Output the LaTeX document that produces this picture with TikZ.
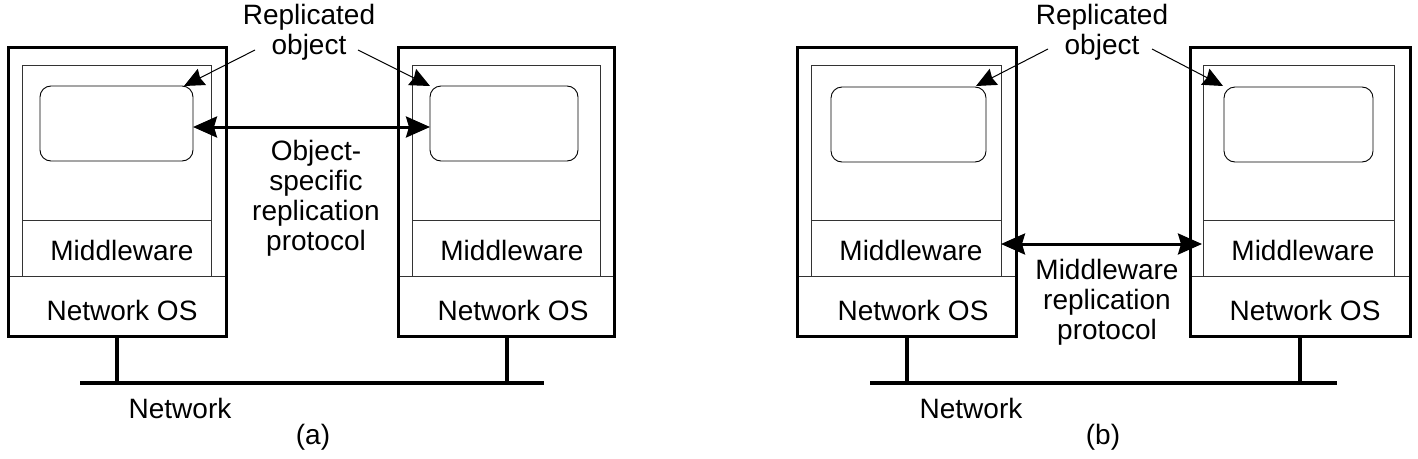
\documentclass[tikz,border=0pt]{standalone}
\usepackage{fontspec}
\setmainfont{Liberation Sans}
\usetikzlibrary{arrows.meta,positioning}
\tikzset{
  innerbox/.style={draw=black!80,line width=1pt},
  objbox/.style={draw=black,line width=0.9pt,rounded corners=11pt},
  lbl/.style={font=\fontsize{28}{30}\selectfont,align=center,inner sep=0pt},
  netline/.style={line width=4.5pt},
  thinarrow/.style={line width=1pt,-{Stealth[length=20pt,width=18pt,inset=2pt]}},
  bigarrow/.style={line width=3pt,{Stealth[length=24pt,width=21pt,inset=3pt]}-{Stealth[length=24pt,width=21pt,inset=3pt]}},
}
\begin{document}
\begin{tikzpicture}[x=1pt,y=-1pt,>={Stealth}]
\useasboundingbox (0,0) rectangle (1418,458);
% (a) left machine
\draw[innerbox] (22,65) rectangle (211,276);
\draw[innerbox] (22,220) -- (211,220);
\draw[innerbox] (8,276) -- (226,276);
\draw[line width=3pt] (8,47) rectangle (226,336);
\draw[objbox] (40,86) rectangle (193,161);
\coordinate (a1obj) at (193,127);
\coordinate (a1tip) at (184,86);
\coordinate (a1net) at (117,336);
\node[lbl] (a1mw) at (122,250) {Middleware};
\node[lbl] (a1os) at (122,310) {Network OS};
% (a) right machine
\draw[innerbox] (412,65) rectangle (600,276);
\draw[innerbox] (412,220) -- (600,220);
\draw[innerbox] (398,276) -- (614,276);
\draw[line width=3pt] (398,47) rectangle (614,336);
\draw[objbox] (430,86) rectangle (578,161);
\coordinate (a2obj) at (430,127);
\coordinate (a2tip) at (430,86);
\coordinate (a2net) at (507,336);
\node[lbl] (a2mw) at (512,250) {Middleware};
\node[lbl] (a2os) at (513,310) {Network OS};
% (a) labels and connectors
\node[lbl] (arep) at (309,32) {Replicated\\object};
\coordinate (arepl) at (255,50);
\coordinate (arepr) at (358,50);
\draw[thinarrow] (arepl) -- (a1tip);
\draw[thinarrow] (arepr) -- (a2tip);
\draw[bigarrow] (a1obj) -- (a2obj);
\node[lbl] (aproto) at (316,198) {Object-\\specific\\replication\\protocol};
\coordinate (anl) at (80,383);
\coordinate (anr) at (544,383);
\draw[netline] (anl) -- (anr);
\draw[netline] (a1net) -- (a1net |- anl);
\draw[netline] (a2net) -- (a2net |- anl);
\node[lbl] (anet) at (180,408) {Network};
\node[lbl] (acap) at (313,437) {(a)};
% (b) left machine
\draw[innerbox] (811,65) rectangle (1001,276);
\draw[innerbox] (811,220) -- (1001,220);
\draw[innerbox] (797,276) -- (1016,276);
\draw[line width=3pt] (797,47) rectangle (1016,336);
\draw[objbox] (831,87) rectangle (986,162);
\coordinate (b1mwr) at (1001,244);
\coordinate (b1tip) at (976,86);
\coordinate (b1net) at (907,336);
\node[lbl] (b1mw) at (911,250) {Middleware};
\node[lbl] (b1os) at (913,310) {Network OS};
% (b) right machine
\draw[innerbox] (1203,65) rectangle (1394,276);
\draw[innerbox] (1203,220) -- (1394,220);
\draw[innerbox] (1190,276) -- (1410,276);
\draw[line width=3pt] (1190,47) rectangle (1410,336);
\draw[objbox] (1224,87) rectangle (1373,162);
\coordinate (b2mwl) at (1202,244);
\coordinate (b2tip) at (1223,86);
\coordinate (b2net) at (1300,336);
\node[lbl] (b2mw) at (1303,250) {Middleware};
\node[lbl] (b2os) at (1305,310) {Network OS};
% (b) labels and connectors
\node[lbl] (brep) at (1102,32) {Replicated\\object};
\coordinate (brepl) at (1048,49);
\coordinate (brepr) at (1152,49);
\draw[thinarrow] (brepl) -- (b1tip);
\draw[thinarrow] (brepr) -- (b2tip);
\draw[bigarrow] (b1mwr) -- (b2mwl);
\node[lbl] (bproto) at (1107,302) {Middleware\\replication\\protocol};
\coordinate (bnl) at (870,383);
\coordinate (bnr) at (1337,383);
\draw[netline] (bnl) -- (bnr);
\draw[netline] (b1net) -- (b1net |- bnl);
\draw[netline] (b2net) -- (b2net |- bnl);
\node[lbl] (bnet) at (971,408) {Network};
\node[lbl] (bcap) at (1103,437) {(b)};
\end{tikzpicture}
\end{document}
